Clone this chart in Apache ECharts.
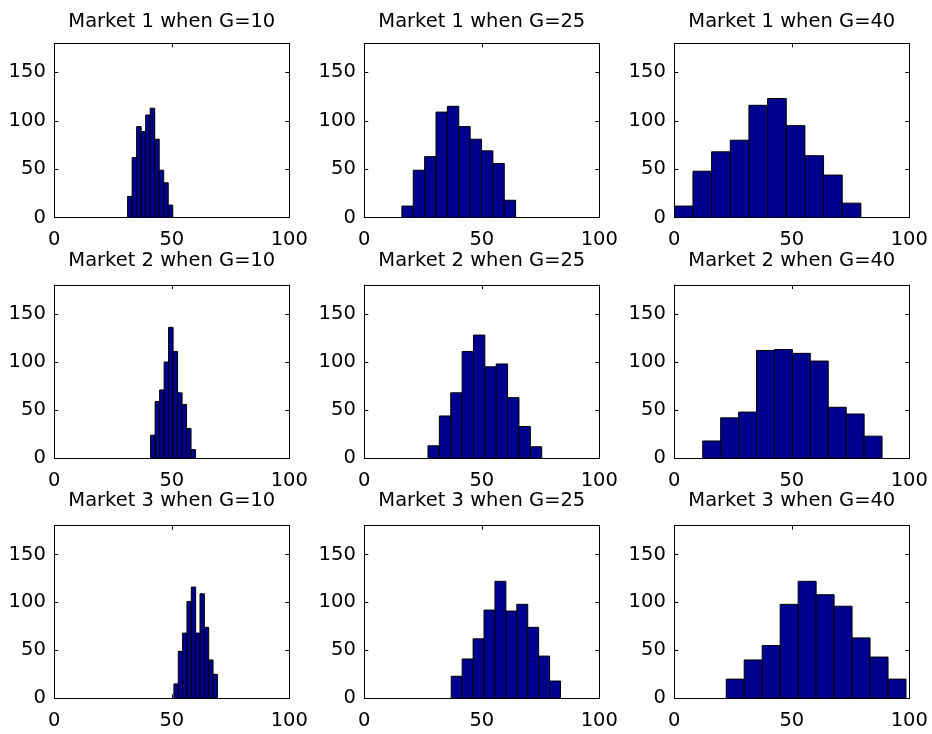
<!DOCTYPE html>
<html>
<head>
<meta charset="utf-8">
<script src="https://cdn.jsdelivr.net/npm/echarts@6/dist/echarts.min.js"></script>
<style>
html,body{margin:0;padding:0;background:#fff;}
#chart{width:932px;height:734px;}
</style>
</head>
<body>
<div id="chart"></div>
<script>
// Panel titles (row-major: Market 1..3, G = 10, 25, 40)
const panelTitles = [
  'Market 1 when G=10', 'Market 1 when G=25', 'Market 1 when G=40',
  'Market 2 when G=10', 'Market 2 when G=25', 'Market 2 when G=40',
  'Market 3 when G=10', 'Market 3 when G=25', 'Market 3 when G=40'
];
// Histogram bin ranges [lowest edge, highest edge], 10 equal bins each
const binRanges = [
  [31.2, 50.4], [16.0, 64.4], [0.0, 79.4],
  [41.0, 60.1], [27.1, 75.5], [12.1, 88.4],
  [50.9, 69.4], [37.0, 83.5], [22.1, 98.6]
];
// Bin counts
const m1g10 = [22, 62, 94, 89, 106, 113, 81, 49, 36, 13];
const m1g25 = [12, 49, 63, 109, 115, 94, 81, 69, 56, 18];
const m1g40 = [12, 48, 68, 80, 116, 123, 95, 64, 44, 15];
const m2g10 = [24, 59, 71, 100, 136, 111, 68, 56, 31, 9];
const m2g25 = [13, 44, 68, 111, 128, 95, 98, 63, 33, 12];
const m2g40 = [18, 42, 48, 112, 113, 109, 101, 53, 46, 23];
const m3g10 = [15, 49, 68, 101, 116, 68, 109, 74, 40, 25];
const m3g25 = [23, 41, 62, 92, 122, 91, 98, 74, 44, 18];
const m3g40 = [20, 40, 55, 98, 122, 108, 96, 63, 43, 20];
const panelCounts = [m1g10, m1g25, m1g40, m2g10, m2g25, m2g40, m3g10, m3g25, m3g40];
// Axis ranges / ticks
const xMin = 0, xMax = 100, xStep = 50;
const yMin = 0, yMax = 180, yStep = 50;

const FONT = 'DejaVu Sans';
const FS = 19.5;
const colLeft = [54.3, 364.3, 674.3];
const gridW = 235;
const rowTop = [43.3, 285, 525.7];
const rowH = [174.4, 173.3, 172.6];
const titleTop = [11.5, 250.5, 491];

const grids = [], xAxes = [], yAxes = [], series = [], titles = [];
for (let i = 0; i < 9; i++) {
  const r = Math.floor(i / 3), c = i % 3;
  grids.push({left: colLeft[c], top: rowTop[r], width: gridW, height: rowH[r], containLabel: false});
  titles.push({
    text: panelTitles[i], left: colLeft[c] + gridW / 2, top: titleTop[r], textAlign: 'center', padding: 0,
    textStyle: {fontFamily: FONT, fontSize: FS, fontWeight: 'normal', color: '#000'}
  });
  const lineStyle = {color: '#000', width: 1};
  xAxes.push({
    gridIndex: i, type: 'value', min: xMin, max: xMax, interval: xStep, position: 'bottom',
    axisLine: {show: true, onZero: false, lineStyle},
    axisTick: {show: true, inside: true, length: 4, lineStyle},
    axisLabel: {show: true, margin: 12.5, color: '#000', fontFamily: FONT, fontSize: FS},
    splitLine: {show: false}
  });
  xAxes.push({
    gridIndex: i, type: 'value', min: xMin, max: xMax, interval: xStep, position: 'top',
    axisLine: {show: true, onZero: false, lineStyle},
    axisTick: {show: true, inside: true, length: 4, lineStyle},
    axisLabel: {show: false}, splitLine: {show: false}
  });
  yAxes.push({
    gridIndex: i, type: 'value', min: yMin, max: yMax, interval: yStep, position: 'left',
    axisLine: {show: true, onZero: false, lineStyle},
    axisTick: {show: true, inside: true, length: 4, lineStyle},
    axisLabel: {show: true, margin: 8.5, color: '#000', fontFamily: FONT, fontSize: FS, showMaxLabel: false},
    splitLine: {show: false}
  });
  yAxes.push({
    gridIndex: i, type: 'value', min: yMin, max: yMax, interval: yStep, position: 'right',
    axisLine: {show: true, onZero: false, lineStyle},
    axisTick: {show: true, inside: true, length: 4, lineStyle},
    axisLabel: {show: false}, splitLine: {show: false}
  });
  const lo = binRanges[i][0], hi = binRanges[i][1], w = (hi - lo) / panelCounts[i].length;
  const data = panelCounts[i].map((v, k) => [lo + k * w, lo + (k + 1) * w, v]);
  series.push({
    type: 'custom', xAxisIndex: 2 * i, yAxisIndex: 2 * i, clip: true, silent: true,
    renderItem: function (params, api) {
      const p0 = api.coord([api.value(0), 0]);
      const p1 = api.coord([api.value(1), api.value(2)]);
      return {
        type: 'rect',
        shape: {x: p0[0], y: p1[1], width: p1[0] - p0[0], height: p0[1] - p1[1]},
        style: {fill: '#00008F', stroke: '#000', lineWidth: 1}
      };
    },
    data: data
  });
}

const chart = echarts.init(document.getElementById('chart'), null, {renderer: 'canvas'});
chart.setOption({
  animation: false,
  backgroundColor: '#fff',
  title: titles,
  grid: grids,
  xAxis: xAxes,
  yAxis: yAxes,
  series: series
});
</script>
</body>
</html>
